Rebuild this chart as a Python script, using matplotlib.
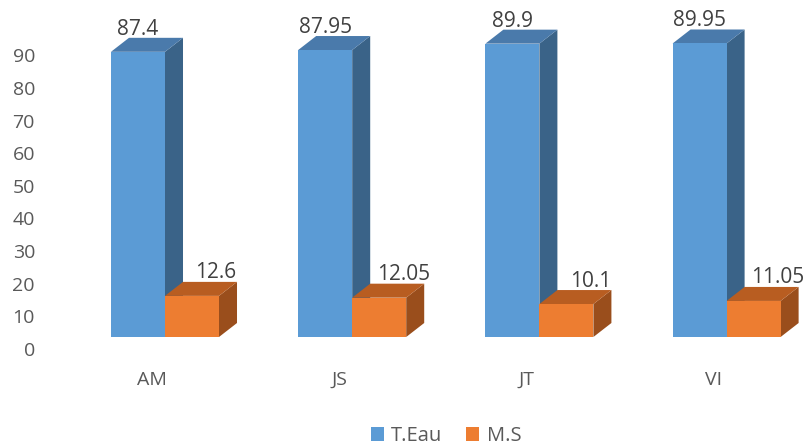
import numpy as np
import matplotlib.pyplot as plt
from matplotlib.patches import Polygon
from matplotlib.transforms import ScaledTranslation

# ---- data ----
categories = ["AM", "JS", "JT", "VI"]
t_eau = [87.4, 87.95, 89.9, 89.95]
m_s = [12.6, 12.05, 10.1, 11.05]
series_names = ["T.Eau", "M.S"]
yticks = [0, 10, 20, 30, 40, 50, 60, 70, 80, 90]

# ---- style ----
FRONT = ["#5B9BD5", "#ED7D31"]
TOP = ["#4A7AAB", "#B85D21"]
SIDE = ["#3A6388", "#9A4E1C"]
TXT = "#404040"
TICK_TXT = "#595959"
plt.rcParams["font.family"] = ["Open Sans", "DejaVu Sans"]

W = 0.2885      # bar width (category units)
DX = 0.0962     # depth offset, x
DY = 4.29       # depth offset, y (value units)

fig = plt.figure(figsize=(8.04, 4.48), dpi=100)
ax = fig.add_axes([40 / 804, 88 / 448, 764 / 804, 360 / 448])
ax.set_xlim(-0.6677, 3.4135)
ax.set_ylim(-7.05, 103.28)
for s in ax.spines.values():
    s.set_visible(False)

x = np.arange(len(categories))


def bar3d(x0, v, k):
    x1 = x0 + W
    ax.add_patch(Polygon([(x1, 0), (x1 + DX, DY), (x1 + DX, v + DY), (x1, v)],
                         closed=True, fc=SIDE[k], ec="none"))
    ax.add_patch(Polygon([(x0, v), (x0 + DX, v + DY), (x1 + DX, v + DY), (x1, v)],
                         closed=True, fc=TOP[k], ec="none"))
    ax.add_patch(Polygon([(x0, 0), (x0, v), (x1, v), (x1, 0)],
                         closed=True, fc=FRONT[k], ec="none"))


for i in x:
    bar3d(i - W, t_eau[i], 0)
    bar3d(i, m_s[i], 1)
    ax.annotate(f"{t_eau[i]:g}", xy=(i - W / 2, t_eau[i]), xytext=(0, 12.3),
                textcoords="offset points", ha="center", va="baseline",
                fontsize=15, color=TXT)
    ax.annotate(f"{m_s[i]:g}", xy=(i + W / 2, m_s[i]), xytext=(17.3, 12.6),
                textcoords="offset points", ha="center", va="baseline",
                fontsize=15, color=TXT)

ax.set_yticks(yticks)
ax.set_xticks(x)
ax.set_xticklabels(categories)
ax.tick_params(axis="y", length=0, pad=3.6, labelsize=14, labelcolor=TICK_TXT)
ax.tick_params(axis="x", length=0, pad=8, labelsize=14, labelcolor=TICK_TXT)
for lab in ax.get_yticklabels():
    lab.set_transform(lab.get_transform() + ScaledTranslation(0, -0.12, fig.dpi_scale_trans))
for lab in ax.get_xticklabels():
    lab.set_transform(lab.get_transform() + ScaledTranslation(-0.13, 0, fig.dpi_scale_trans))

handles = [plt.Rectangle((0, 0), 1, 1, fc=c, ec="none") for c in FRONT]
fig.legend(handles, series_names, loc="center", bbox_to_anchor=(446 / 804, 1 - 436 / 448),
           ncol=2, frameon=False, fontsize=14.5, labelcolor=TICK_TXT,
           handlelength=0.65, handleheight=0.65, handletextpad=0.35, columnspacing=1.2,
           borderpad=0.2)

fig.savefig("out.png", dpi=100)
